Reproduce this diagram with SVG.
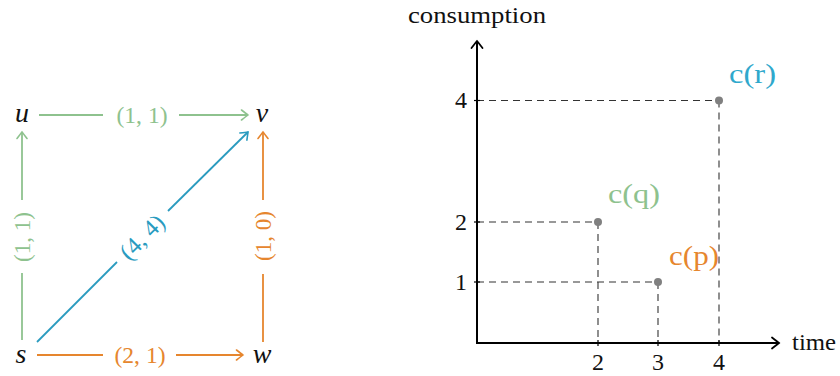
<svg xmlns="http://www.w3.org/2000/svg" width="840" height="376" viewBox="0 0 840 376">
<style>
text{font-family:"Liberation Serif","DejaVu Serif",serif;}
.node{font-size:28px;font-style:italic;fill:#111;text-anchor:middle;}
.lbl{font-size:24px;text-anchor:middle;}
.ax{font-size:24px;fill:#111;}
.tick{font-size:24px;fill:#111;text-anchor:middle;}
.g{stroke:#8ec28e;fill:none;stroke-width:1.8;}
.b{stroke:#2a9bbf;fill:none;stroke-width:1.8;}
.o{stroke:#e6862e;fill:none;stroke-width:1.8;}
.axis{stroke:#000;stroke-width:2;fill:none;}
.dash{stroke:#333;stroke-width:1.1;stroke-dasharray:7 5;fill:none;}
.tk{stroke:#000;stroke-width:1.2;}
.dot{fill:#808080;}
</style>
<defs>
<marker id="ag" viewBox="-8 -6 10 12" refX="0" refY="0" markerWidth="10" markerHeight="12" markerUnits="userSpaceOnUse" orient="auto"><path d="M -6.5 -5 Q -1.5 -1.2 0 0 Q -1.5 1.2 -6.5 5" fill="none" stroke="#8ec28e" stroke-width="1.6" stroke-linecap="round"/></marker>
<marker id="ab" viewBox="-8 -6 10 12" refX="0" refY="0" markerWidth="10" markerHeight="12" markerUnits="userSpaceOnUse" orient="auto"><path d="M -6.5 -5 Q -1.5 -1.2 0 0 Q -1.5 1.2 -6.5 5" fill="none" stroke="#2a9bbf" stroke-width="1.6" stroke-linecap="round"/></marker>
<marker id="ao" viewBox="-8 -6 10 12" refX="0" refY="0" markerWidth="10" markerHeight="12" markerUnits="userSpaceOnUse" orient="auto"><path d="M -6.5 -5 Q -1.5 -1.2 0 0 Q -1.5 1.2 -6.5 5" fill="none" stroke="#e6862e" stroke-width="1.6" stroke-linecap="round"/></marker>
<marker id="ak" viewBox="-9 -7 11 14" refX="0" refY="0" markerWidth="11" markerHeight="14" markerUnits="userSpaceOnUse" orient="auto"><path d="M -7 -5.5 Q -1.5 -1.3 0 0 Q -1.5 1.3 -7 5.5" fill="none" stroke="#000" stroke-width="1.8" stroke-linecap="round"/></marker>
</defs>

<g id="connectors">
  <!-- s -> u -->
  <line class="g" x1="22" y1="340" x2="22" y2="273"/>
  <line class="g" x1="22" y1="200" x2="22" y2="132" marker-end="url(#ag)"/>
  <text class="lbl" fill="#8ec28e" transform="translate(22,237) rotate(-90)" x="0" y="8" textLength="50" lengthAdjust="spacingAndGlyphs">(1, 1)</text>
  <!-- u -> v -->
  <line class="g" x1="39" y1="115" x2="103" y2="115"/>
  <line class="g" x1="179" y1="115" x2="248" y2="115" marker-end="url(#ag)"/>
  <text class="lbl" fill="#8ec28e" x="142" y="123" textLength="51" lengthAdjust="spacingAndGlyphs">(1, 1)</text>
  <!-- s -> w -->
  <line class="o" x1="37" y1="355" x2="103" y2="355"/>
  <line class="o" x1="176" y1="355" x2="243" y2="355" marker-end="url(#ao)"/>
  <text class="lbl" fill="#e6862e" x="140" y="363" textLength="51" lengthAdjust="spacingAndGlyphs">(2, 1)</text>
  <!-- w -> v -->
  <line class="o" x1="263" y1="342" x2="263" y2="274"/>
  <line class="o" x1="263" y1="200" x2="263" y2="132" marker-end="url(#ao)"/>
  <text class="lbl" fill="#e6862e" transform="translate(263,236) rotate(-90)" x="0" y="8" textLength="50" lengthAdjust="spacingAndGlyphs">(1, 0)</text>
  <!-- s -> v -->
  <line class="b" x1="37" y1="342" x2="117" y2="262"/>
  <line class="b" x1="168" y1="211" x2="248" y2="132" marker-end="url(#ab)"/>
  <text class="lbl" fill="#2a9bbf" transform="translate(142,237) rotate(-45)" x="0" y="8" textLength="53" lengthAdjust="spacingAndGlyphs">(4, 4)</text>
</g>

<g id="node-u"><text class="node" x="22" y="122">u</text></g>
<g id="node-v"><text class="node" x="262" y="122">v</text></g>
<g id="node-s"><text class="node" x="21" y="363">s</text></g>
<g id="node-w"><text class="node" x="262" y="363">w</text></g>

<g id="chart">
  <line class="dash" x1="477" y1="100.5" x2="719" y2="100.5"/>
  <line class="dash" x1="719" y1="100.5" x2="719" y2="343"/>
  <line class="dash" x1="477" y1="222" x2="598" y2="222"/>
  <line class="dash" x1="598" y1="222" x2="598" y2="343"/>
  <line class="dash" x1="477" y1="282" x2="658" y2="282"/>
  <line class="dash" x1="658" y1="282" x2="658" y2="343"/>

  <line class="axis" x1="477" y1="344" x2="477" y2="41" marker-end="url(#ak)"/>
  <line class="axis" x1="476" y1="343" x2="779" y2="343" marker-end="url(#ak)"/>

  <line class="tk" x1="474" y1="100.5" x2="480" y2="100.5"/>
  <line class="tk" x1="474" y1="222" x2="480" y2="222"/>
  <line class="tk" x1="474" y1="282" x2="480" y2="282"/>
  <line class="tk" x1="598" y1="340" x2="598" y2="346"/>
  <line class="tk" x1="658" y1="340" x2="658" y2="346"/>
  <line class="tk" x1="719" y1="340" x2="719" y2="346"/>

  <text class="ax" x="477" y="23" text-anchor="middle" textLength="138" lengthAdjust="spacingAndGlyphs">consumption</text>
  <text class="ax" x="792" y="350" textLength="44" lengthAdjust="spacingAndGlyphs">time</text>

  <text class="tick" x="461" y="108">4</text>
  <text class="tick" x="461" y="230">2</text>
  <text class="tick" x="461" y="290">1</text>
  <text class="tick" x="598" y="370">2</text>
  <text class="tick" x="658" y="370">3</text>
  <text class="tick" x="719" y="370">4</text>

  <circle class="dot" cx="719" cy="100.5" r="4"/>
  <circle class="dot" cx="598" cy="222" r="4"/>
  <circle class="dot" cx="658" cy="282" r="4"/>

  <text x="729" y="83" font-size="27" fill="#2fa8cc" textLength="47" lengthAdjust="spacingAndGlyphs">c(r)</text>
  <text x="608" y="203" font-size="27" fill="#8ec28e" textLength="52" lengthAdjust="spacingAndGlyphs">c(q)</text>
  <text x="669" y="265" font-size="27" fill="#e6862e" textLength="50" lengthAdjust="spacingAndGlyphs">c(p)</text>
</g>
</svg>
